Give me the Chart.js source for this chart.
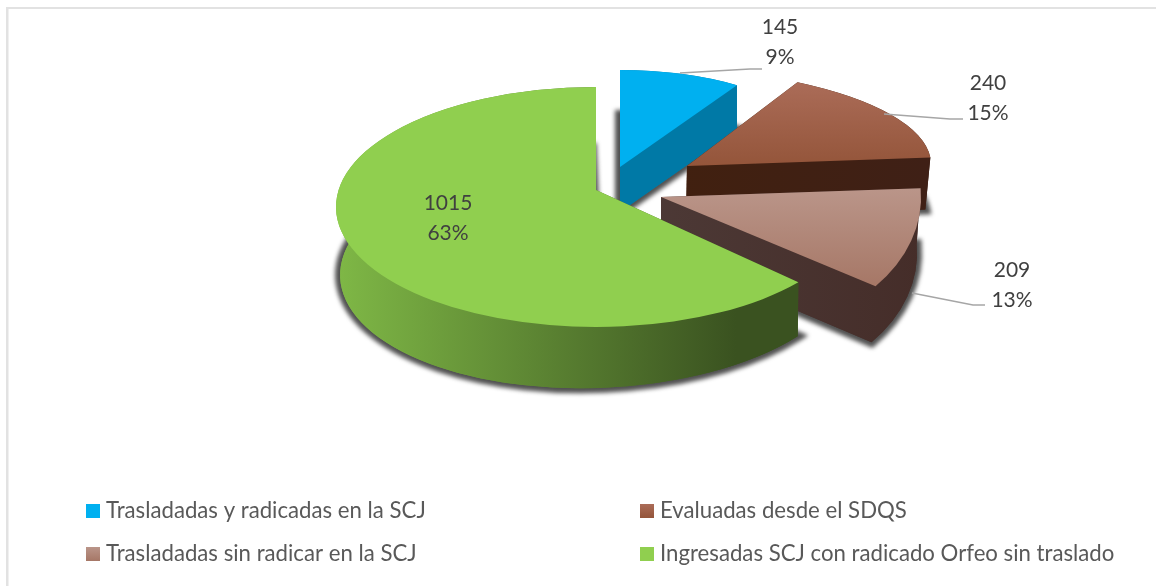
<!DOCTYPE html>
<html>
<head>
<meta charset="utf-8">
<script src="https://cdn.jsdelivr.net/npm/chart.js@4"></script>
<style>
  html, body { margin: 0; padding: 0; background: #fff; }
  canvas { display: block; }
</style>
</head>
<body>
<canvas id="pie" width="1156" height="586"></canvas>
<script>
const categories = [
  'Trasladadas y radicadas en la SCJ',
  'Evaluadas desde el SDQS',
  'Trasladadas sin radicar en la SCJ',
  'Ingresadas SCJ con radicado Orfeo sin traslado'
];
const values = [145, 240, 209, 1015];
const percents = ['9%', '15%', '13%', '63%'];

const topColors = [['#00B0F0', '#00B0F0'], ['#AB6C58', '#94553A'], ['#BA9589', '#A67766'], ['#90CF4F', '#90CF4F']];
const sideColors = [['#0079A6', '#0079A6'], ['#41200F', '#3F2016'], ['#4D3A37', '#452D29'], ['#7FB846', '#3A5220']];

// perspective fit of each slice, px from the pie centre
const faces = [
  { top: { ex: 24, ey: -40, rx: 218, ry: 97, rot: 0, ax: 24, ay: -40, gy: [-137, -40] },
    bot: { ex: 24, ey: 5, rx: 218, ry: 97, rot: 0, ax: 24, ay: 5 } },
  { top: { ex: 47, ey: -43, rx: 288, ry: 97, rot: 0, ax: 91, ay: -41, gy: [-125, -41] },
    bot: { ex: 42, ey: 9, rx: 288, ry: 97, rot: 0, ax: 90, ay: 11 } },
  { top: { ex: 155, ey: -10, rx: 170, ry: 131, rot: 0, ax: 65, ay: -10, gy: [-18, 80] },
    bot: { ex: 151, ey: 46, rx: 170, ry: 131, rot: 0, ax: 65, ay: 46 } },
  { top: { ex: 0, ey: 0, rx: 260, ry: 120, rot: 0, ax: 0, ay: -17, tweak: -4, gy: [-120, 120] },
    bot: { ex: 0, ey: 61, rx: 256, ry: 120, rot: -2, ax: 0, ay: 40, tweak: -4 } }
];
const labelSpots = [
  { x: 184, y: -180, line: [[84, -134], [154, -138], [166, -138]] },
  { x: 392, y: -124, line: [[288, -93], [354, -88], [367, -88]] },
  { x: 416, y: 63, line: [[316, 86], [377, 98], [389, 98]] },
  { x: -148, y: -4 }
];
const legendSpots = [
  { x: 86, y: 504 }, { x: 640, y: 504 }, { x: 86, y: 547 }, { x: 640, y: 547 }
];

function pt(g, a) {
  const c = Math.cos(a) * g.rx, s = Math.sin(a) * g.ry, r = g.rot * Math.PI / 180;
  return [g.ex + c * Math.cos(r) - s * Math.sin(r), g.ey + c * Math.sin(r) + s * Math.cos(r)];
}
function wedge(ctx, g, a0, a1) {
  ctx.beginPath();
  ctx.moveTo(g.ax, g.ay);
  ctx.ellipse(g.ex, g.ey, g.rx, g.ry, g.rot * Math.PI / 180, a0, a1);
  ctx.closePath();
}
function paint(ctx, stops, x0, y0, x1, y1) {
  const grad = ctx.createLinearGradient(x0, y0, x1, y1);
  grad.addColorStop(0, stops[0]);
  grad.addColorStop(1, stops[1]);
  return grad;
}

const pie3d = {
  id: 'pie3d',
  beforeDatasetsDraw(chart) {
    const ctx = chart.ctx;
    chart.getDatasetMeta(0).data.forEach((arc, i) => {
      const f = faces[i];
      const tw = (f.top.tweak || 0) * Math.PI / 180, bw = (f.bot.tweak || 0) * Math.PI / 180;
      const a0 = arc.startAngle + tw, a1 = arc.endAngle, b0 = arc.startAngle + bw;
      ctx.save();
      ctx.translate(arc.x, arc.y);

      const sx0 = f.bot.ax - 30, sx1 = f.top.ex + f.top.rx * (i === 3 ? 0.7 : 1);
      const side = i === 3 ? paint(ctx, sideColors[i], -f.top.rx, 0, 140, 0)
                           : paint(ctx, sideColors[i], sx0, 0, sx1, 0);

      // dark blurred halo round the bottom face
      ctx.save();
      ctx.filter = 'blur(2px)';
      ctx.strokeStyle = 'rgba(50,50,50,0.85)';
      ctx.lineWidth = 10;
      ctx.lineJoin = 'miter';
      wedge(ctx, f.bot, b0, a1);
      ctx.stroke();
      ctx.restore();

      wedge(ctx, f.bot, b0, a1);
      ctx.fillStyle = side;
      ctx.fill();

      // outer rim
      ctx.beginPath();
      ctx.ellipse(f.top.ex, f.top.ey, f.top.rx, f.top.ry, f.top.rot * Math.PI / 180, a0, a1);
      ctx.ellipse(f.bot.ex, f.bot.ey, f.bot.rx, f.bot.ry, f.bot.rot * Math.PI / 180, a1, b0, true);
      ctx.closePath();
      ctx.fillStyle = side;
      ctx.fill();

      // cut faces
      [[a0, b0], [a1, a1]].forEach(([ta, ba]) => {
        const p = pt(f.top, ta), q = pt(f.bot, ba);
        ctx.beginPath();
        ctx.moveTo(f.top.ax, f.top.ay);
        ctx.lineTo(p[0], p[1]);
        ctx.lineTo(q[0], q[1]);
        ctx.lineTo(f.bot.ax, f.bot.ay);
        ctx.closePath();
        ctx.fillStyle = side;
        ctx.fill();
      });

      wedge(ctx, f.top, a0, a1);
      ctx.fillStyle = paint(ctx, topColors[i], 0, f.top.gy[0], 0, f.top.gy[1]);
      ctx.fill();
      ctx.restore();
    });
    return false;
  },
  afterDraw(chart) {
    const ctx = chart.ctx;
    const arc0 = chart.getDatasetMeta(0).data[0];
    ctx.save();

    // frame: top and left only, the picture is cropped on the other sides
    ctx.fillStyle = '#E2E2E2';
    ctx.fillRect(6, 7, 1150, 2);
    ctx.fillRect(6, 7, 2.5, 579);

    // leader lines and data labels
    labelSpots.forEach((s, i) => {
      if (s.line) {
        ctx.strokeStyle = '#A6A6A6';
        ctx.lineWidth = 1.4;
        ctx.beginPath();
        s.line.forEach((p, k) => {
          if (k === 0) ctx.moveTo(arc0.x + p[0], arc0.y + p[1]);
          else ctx.lineTo(arc0.x + p[0], arc0.y + p[1]);
        });
        ctx.stroke();
      }
      ctx.fillStyle = '#404040';
      ctx.font = '21px Lato';
      ctx.textAlign = 'center';
      ctx.textBaseline = 'middle';
      ctx.fillText(String(values[i]), arc0.x + s.x, arc0.y + s.y);
      ctx.fillText(percents[i], arc0.x + s.x, arc0.y + s.y + 30);
    });

    // legend
    chart.data.labels.forEach((label, i) => {
      const s = legendSpots[i];
      ctx.fillStyle = paint(ctx, topColors[i], 0, s.y, 0, s.y + 14);
      ctx.fillRect(s.x, s.y, 14, 14);
      ctx.fillStyle = '#595959';
      ctx.font = '22.2px Lato';
      ctx.textAlign = 'left';
      ctx.textBaseline = 'middle';
      ctx.fillText(label, s.x + 20, s.y + 7);
    });
    ctx.restore();
  }
};

new Chart(document.getElementById('pie'), {
  type: 'pie',
  data: {
    labels: categories,
    datasets: [{ data: values, backgroundColor: topColors.map(c => c[0]), borderWidth: 0 }]
  },
  options: {
    responsive: false,
    animation: false,
    layout: { padding: { left: 476, right: 440, top: 87, bottom: 259 } },
    plugins: { legend: { display: false }, tooltip: { enabled: false } }
  },
  plugins: [pie3d]
});
</script>
</body>
</html>
